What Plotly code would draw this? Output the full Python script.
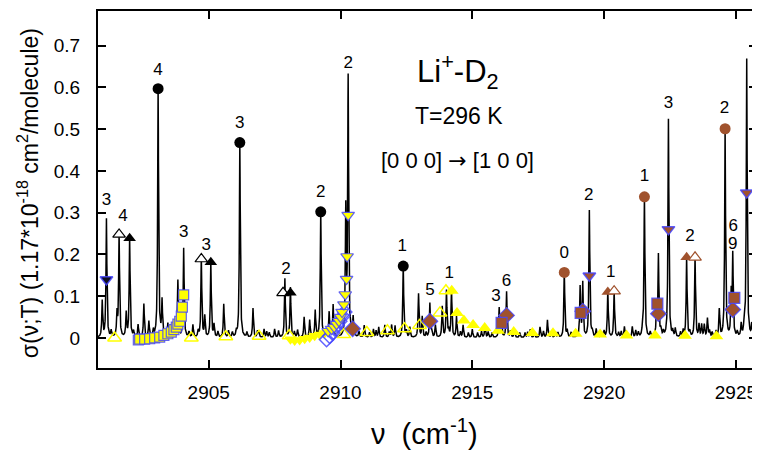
import numpy as np
import plotly.graph_objects as go

# ---------------- spectrum sticks (wavenumber, intensity) ----------------
peak_pos = [2900.96, 2901.12, 2901.52, 2901.60, 2901.87, 2902.00, 2902.32, 2902.54, 2902.73,
            2903.08, 2903.23, 2903.45, 2903.83, 2904.05, 2904.40, 2904.72, 2904.85, 2905.08,
            2905.20, 2905.57, 2906.18, 2906.68, 2907.10, 2907.50, 2907.89, 2908.10, 2908.37,
            2908.62, 2908.83, 2909.04, 2909.25, 2909.57, 2909.72, 2910.20, 2910.29, 2910.48,
            2910.90, 2911.25, 2911.45, 2911.68, 2911.94, 2912.07, 2912.38, 2912.63, 2912.96,
            2913.10, 2913.39, 2913.60, 2913.86, 2914.02, 2914.21, 2914.40, 2914.65, 2915.00,
            2915.48, 2916.02, 2916.10, 2916.30, 2916.60, 2917.20, 2917.57, 2917.85, 2918.49,
            2919.09, 2919.19, 2919.44, 2919.70, 2920.14, 2920.38, 2920.77, 2921.07, 2921.53,
            2921.99, 2922.06, 2922.44, 2922.70, 2923.13, 2923.45, 2923.60, 2923.70, 2923.80,
            2923.92, 2924.37, 2924.59, 2924.82, 2924.88, 2925.20, 2925.41, 2925.60,
            # small baseline lines
            2903.60, 2905.90, 2906.45, 2906.90, 2907.30, 2911.10, 2913.25, 2914.85, 2915.20,
            2915.75, 2916.80, 2917.00, 2917.35, 2918.00, 2918.25, 2918.75, 2919.90, 2920.55,
            2921.30, 2921.75, 2922.25, 2922.90, 2924.10, 2925.05,
            2901.30, 2902.15, 2902.90, 2904.25, 2904.60, 2905.35, 2905.75, 2906.05, 2906.85,
            2907.20, 2907.65, 2908.25, 2909.45, 2910.70, 2911.35, 2911.85, 2912.50, 2913.45,
            2914.10, 2914.55, 2915.35, 2915.60, 2916.45, 2917.10, 2917.70, 2918.15, 2918.60,
            2919.55, 2920.00, 2920.65, 2921.20, 2921.45, 2922.15, 2922.60, 2923.00, 2923.25,
            2924.00, 2924.25, 2925.30]
peak_hgt = [0.087, 0.284, 0.055, 0.248, 0.058, 0.239, 0.030, 0.080, 0.038,
            0.597, 0.086, 0.033, 0.137, 0.214, 0.030, 0.189, 0.050, 0.181,
            0.030, 0.080, 0.468, 0.070, 0.020, 0.020, 0.141, 0.120, 0.018,
            0.049, 0.042, 0.064, 0.302, 0.060, 0.078, 0.300, 0.618, 0.046,
            0.029, 0.020, 0.025, 0.030, 0.030, 0.028, 0.172, 0.025, 0.105,
            0.050, 0.082, 0.030, 0.074, 0.112, 0.113, 0.050, 0.030, 0.020,
            0.030, 0.070, 0.050, 0.110, 0.020, 0.020, 0.026, 0.042, 0.157,
            0.120, 0.130, 0.304, 0.020, 0.114, 0.112, 0.026, 0.026, 0.338,
            0.070, 0.195, 0.523, 0.020, 0.193, 0.193, 0.030, 0.030, 0.030,
            0.045, 0.066, 0.501, 0.100, 0.195, 0.030, 0.667, 0.030,
            0.012, 0.012, 0.012, 0.012, 0.012, 0.012, 0.012, 0.012, 0.012,
            0.012, 0.012, 0.012, 0.012, 0.012, 0.012, 0.012, 0.012, 0.012,
            0.012, 0.012, 0.012, 0.012, 0.012, 0.012,
            0.015, 0.014, 0.016, 0.013, 0.015, 0.014, 0.016, 0.013, 0.015,
            0.014, 0.016, 0.013, 0.015, 0.014, 0.016, 0.013, 0.015, 0.014,
            0.016, 0.013, 0.015, 0.014, 0.016, 0.013, 0.015, 0.014, 0.016,
            0.013, 0.015, 0.014, 0.016, 0.013, 0.015, 0.014, 0.016, 0.013,
            0.015, 0.014, 0.016]
line_hwhm = 0.02

# ---------------- marker series ----------------
blk_circ_x = [2903.08, 2906.18, 2909.25, 2912.38]
blk_circ_y = [0.597, 0.468, 0.302, 0.172]
brn_circ_x = [2918.49, 2921.53, 2924.59]
brn_circ_y = [0.157, 0.338, 0.501]

blk_tri_open_x = [2901.60, 2904.72, 2907.82]
blk_tri_open_y = [0.248, 0.189, 0.108]
blk_tri_fill_x = [2902.00, 2905.08, 2908.10]
blk_tri_fill_y = [0.239, 0.181, 0.108]

brn_tri_fill_x = [2920.14, 2923.13]
brn_tri_fill_y = [0.110, 0.193]
brn_tri_open_x = [2920.38, 2923.45]
brn_tri_open_y = [0.112, 0.193]

dn_black_x = [2901.12]
dn_black_y = [0.140]
dn_brown_x = [2919.44, 2922.44, 2925.41]
dn_brown_y = [0.149, 0.260, 0.348]

brn_dia_x = [2910.46, 2913.39, 2916.30, 2919.19, 2922.06, 2924.88]
brn_dia_y = [0.022, 0.040, 0.054, 0.064, 0.058, 0.068]
brn_sq_x = [2916.11, 2919.11, 2922.02, 2924.94]
brn_sq_y = [0.036, 0.060, 0.082, 0.096]

ysq_x = [2902.33, 2902.38, 2902.57, 2902.76, 2902.95, 2903.14, 2903.30, 2903.45, 2903.58,
         2903.68, 2903.77, 2903.83, 2903.90, 2903.96, 2904.00, 2904.05]
ysq_y = [-0.005, -0.003, -0.003, -0.002, 0.000, 0.002, 0.006, 0.010, 0.014,
         0.020, 0.026, 0.033, 0.040, 0.052, 0.074, 0.103]

ydn_plain_x = [2908.10, 2908.26, 2908.45, 2908.64, 2908.83, 2909.02, 2909.21, 2909.40]
ydn_plain_y = [-0.003, -0.006, -0.005, -0.002, 0.001, 0.005, 0.008, 0.012]
ydn_edge_x = [2909.53, 2909.66, 2909.76, 2909.85, 2909.94, 2910.00, 2910.06, 2910.13,
              2910.18, 2910.23, 2910.25, 2910.29]
ydn_edge_y = [0.016, 0.021, 0.026, 0.033, 0.040, 0.050, 0.062, 0.080,
              0.104, 0.141, 0.195, 0.294]

bdia_x = [2909.47, 2909.59, 2909.70, 2909.78, 2909.87, 2909.97, 2910.08, 2910.16]
bdia_y = [-0.004, 0.004, 0.012, 0.022, 0.030, 0.040, 0.052, 0.062]

ytri_open_x = [2901.43, 2904.34, 2905.65, 2906.91, 2908.05, 2910.12, 2911.00, 2911.78,
               2912.43, 2913.00, 2913.77, 2914.00]
ytri_open_y = [0.000, 0.000, 0.003, 0.004, 0.005, 0.008, 0.013, 0.017,
               0.022, 0.030, 0.060, 0.113]
ytri_fill_x = [2914.22, 2914.42, 2914.68, 2915.03, 2915.47, 2915.98, 2916.57, 2917.28,
               2918.06, 2918.92, 2919.85, 2920.85, 2921.93, 2923.07, 2924.26]
ytri_fill_y = [0.113, 0.060, 0.042, 0.031, 0.024, 0.017, 0.014, 0.012,
               0.011, 0.010, 0.008, 0.006, 0.006, 0.005, 0.004]

# ---------------- quantum-number labels ----------------
lab_x = [2901.12, 2901.75, 2903.08, 2904.05, 2904.91, 2906.18, 2907.93, 2909.25, 2910.29,
         2912.34, 2913.39, 2914.12, 2915.90, 2916.30, 2918.49, 2919.42, 2920.25, 2921.53,
         2922.44, 2923.26, 2924.57, 2924.90, 2924.88]
lab_y = [0.328, 0.290, 0.639, 0.252, 0.221, 0.514, 0.163, 0.348, 0.657,
         0.218, 0.114, 0.153, 0.098, 0.135, 0.202, 0.340, 0.157, 0.387,
         0.560, 0.242, 0.549, 0.266, 0.222]
lab_t = ["3", "4", "4", "3", "3", "3", "2", "2", "2",
         "1", "5", "1", "3", "6", "0", "2", "1", "1",
         "3", "2", "2", "6", "9"]

x_range = [2900.8, 2925.8]
y_range = [-0.072, 0.783]
x_ticks = [2905, 2910, 2915, 2920, 2925]
y_ticks = [0, 0.1, 0.2, 0.3, 0.4, 0.5, 0.6, 0.7]

# ---------------- build spectrum ----------------
pp = np.array(peak_pos)
hh = np.array(peak_hgt)
xs = np.unique(np.concatenate([np.linspace(x_range[0], x_range[1], 7001), pp]))
ys = np.zeros_like(xs)
g2 = line_hwhm ** 2
for p, h in zip(pp, hh):
    ys += h * g2 / ((xs - p) ** 2 + g2)

BROWN = "#A0522D"
BLUE = "rgba(70,70,255,0.85)"
YEL = "#FFFF00"
FONT = "Liberation Sans, Arial, sans-serif"

fig = go.Figure()
fig.add_trace(go.Scatter(x=xs, y=ys, mode="lines", line=dict(color="black", width=1.5),
                         hoverinfo="skip"))


def mk(x, y, symbol, size, color, lcolor=None, lwidth=0):
    fig.add_trace(go.Scatter(
        x=x, y=y, mode="markers",
        marker=dict(symbol=symbol, size=size, color=color,
                    line=dict(color=lcolor if lcolor else color, width=lwidth))))


mk(ytri_open_x, ytri_open_y, "triangle-up-open", 12, YEL, YEL, 1.5)
mk(ytri_fill_x, ytri_fill_y, "triangle-up", 12, YEL)
mk(ysq_x, ysq_y, "square", 10, YEL, BLUE, 1.2)
mk(ydn_plain_x, ydn_plain_y, "triangle-down", 11, YEL)
mk(bdia_x, bdia_y, "diamond-open", 11, BLUE, BLUE, 1.5)
mk(ydn_edge_x, ydn_edge_y, "triangle-down", 11, YEL, BLUE, 1.2)
mk(blk_circ_x, blk_circ_y, "circle", 11, "black")
mk(brn_circ_x, brn_circ_y, "circle", 11, BROWN)
mk(blk_tri_open_x, blk_tri_open_y, "triangle-up", 11, "white", "black", 1.2)
mk(blk_tri_fill_x, blk_tri_fill_y, "triangle-up", 11, "black")
mk(brn_tri_fill_x, brn_tri_fill_y, "triangle-up", 11, BROWN)
mk(brn_tri_open_x, brn_tri_open_y, "triangle-up", 11, "white", BROWN, 1.2)
mk(dn_black_x, dn_black_y, "triangle-down", 11, "#101020", BLUE, 1.5)
mk(dn_brown_x, dn_brown_y, "triangle-down", 11, BROWN, BLUE, 1.5)
mk(brn_dia_x, brn_dia_y, "diamond", 12, BROWN, BLUE, 1.2)
mk(brn_sq_x, brn_sq_y, "square", 11, BROWN, BLUE, 1.2)

fig.add_trace(go.Scatter(x=lab_x, y=lab_y, mode="text", text=lab_t,
                         textposition="middle center",
                         textfont=dict(family=FONT, size=17, color="black")))

ann = [
    dict(x=2914.45, y=0.637, text="Li<sup>+</sup>-D<sub>2</sub>", font=dict(size=31)),
    dict(x=2914.49, y=0.532, text="T=296 K", font=dict(size=23)),
    dict(x=2914.45, y=0.425,
         text="[0 0 0] <span style=\"font-family:DejaVu Sans\">\u2192</span> [1 0 0]",
         font=dict(size=22)),
]
for a in ann:
    a.update(xref="x", yref="y", showarrow=False, xanchor="center", yanchor="middle")
    a["font"].update(family=FONT, color="black")

ann.append(dict(xref="paper", yref="paper", x=-0.106, y=0.49, textangle=-90,
                text="\u03c3(\u03bd;T) (1.17*10<sup>-18</sup> cm<sup>2</sup>/molecule)",
                showarrow=False, xanchor="center", yanchor="middle",
                font=dict(family=FONT, size=23, color="black")))
ann.append(dict(xref="paper", yref="paper", x=0.496, y=-0.18,
                text="\u03bd\u00a0\u00a0(cm<sup>-1</sup>)",
                showarrow=False, xanchor="center", yanchor="middle",
                font=dict(family=FONT, size=29, color="black")))

axis_common = dict(showline=True, linewidth=2, linecolor="black", mirror="ticks",
                   ticks="inside", ticklen=8, tickwidth=1.5, tickcolor="black",
                   showgrid=False, zeroline=False,
                   tickfont=dict(family=FONT, size=19, color="black"))

# the page body adds an 8 px offset, so the figure is 8 px smaller on each side
fig.update_layout(
    width=752, height=444,
    margin=dict(l=90, r=3, t=1, b=84),
    plot_bgcolor="white", paper_bgcolor="white",
    showlegend=False,
    annotations=ann,
    xaxis=dict(range=x_range, tickvals=x_ticks, ticklabelstandoff=6, **axis_common),
    yaxis=dict(range=y_range, tickvals=y_ticks, ticklabelstandoff=12, **axis_common),
)

fig.write_html("out.html")
